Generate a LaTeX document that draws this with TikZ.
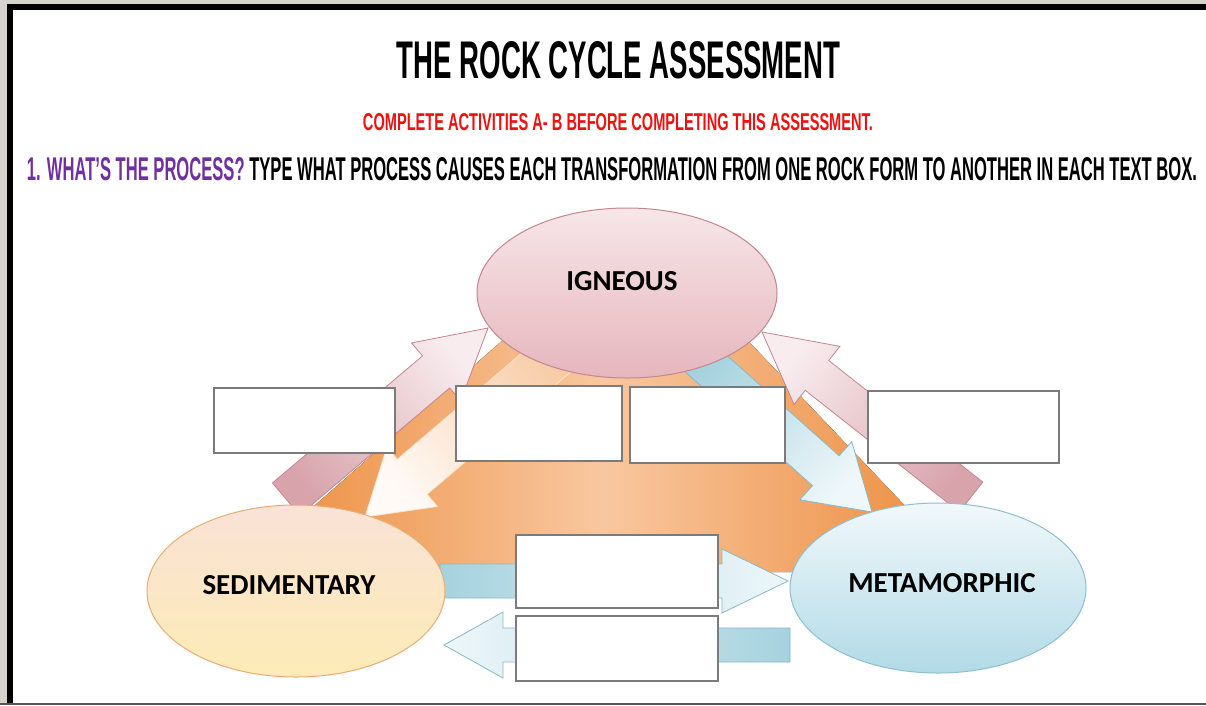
\documentclass[tikz,border=0pt]{standalone}
\usepackage{fontspec}
\setmainfont{Liberation Sans}
\newfontfamily\rocklabelfont{Carlito}
\usetikzlibrary{calc,shapes.geometric}

\definecolor{framegray}{HTML}{D6D3CE}
\definecolor{framebottom}{HTML}{555555}
\definecolor{headred}{HTML}{F01010}
\definecolor{headpurple}{HTML}{7030A0}
\definecolor{igntop}{HTML}{F7E6E8}
\definecolor{ignbottom}{HTML}{E5B6BD}
\definecolor{ignedge}{HTML}{C4868F}
\definecolor{sedtop}{HTML}{FAE2D6}
\definecolor{sedbottom}{HTML}{FDEBB6}
\definecolor{sededge}{HTML}{E6AD74}
\definecolor{mettop}{HTML}{F1F8FB}
\definecolor{metbottom}{HTML}{B1DAE6}
\definecolor{metedge}{HTML}{8DBFCF}
\definecolor{orangedark}{HTML}{EC8A38}
\definecolor{orangelight}{HTML}{F8C7A0}
\definecolor{pinktail}{HTML}{D8A3AB}
\definecolor{pinkhead}{HTML}{F8ECEE}
\definecolor{pinkedge}{HTML}{C3868F}
\definecolor{peachtail}{HTML}{F7C9A0}
\definecolor{peachhead}{HTML}{FFFAF6}
\definecolor{peachedge}{HTML}{FBE3CF}
\definecolor{bluetail}{HTML}{A5D2DE}
\definecolor{bluehead}{HTML}{EEF7FA}
\definecolor{blueedge}{HTML}{86B9C8}
\definecolor{boxedge}{HTML}{7B7B7B}

% block arrow: #1 style, #2 tail, #3 tip, #4 half shaft width, #5 half head width, #6 head length
\newcommand\rockarrow[6]{%
  \coordinate (arrowbase) at ($(#3)!#6!(#2)$);
  \draw[#1] ($(#2)!#4!90:(#3)$) -- ($(arrowbase)!#4!90:(#3)$)
    -- ($(arrowbase)!#5!90:(#3)$) -- (#3)
    -- ($(arrowbase)!#5!-90:(#3)$) -- ($(arrowbase)!#4!-90:(#3)$)
    -- ($(#2)!#4!-90:(#3)$) -- cycle;
}

\tikzset{
  pinkarrow/.style={draw=pinkedge, line width=0.8pt, bottom color=pinktail, top color=pinkhead},
  peacharrow/.style={draw=peachedge, line width=0.8pt, bottom color=peachtail, top color=peachhead},
  bluearrow/.style={draw=blueedge, line width=0.8pt, bottom color=bluetail, top color=bluehead},
  rockellipse/.style={ellipse, line width=1pt, inner sep=0pt},
  rocklabel/.style={font=\rocklabelfont\bfseries\fontsize{29}{30}\selectfont, inner sep=0pt},
  answerbox/.style={rectangle, draw=boxedge, line width=1.3pt, fill=white, inner sep=0pt},
  heading/.style={inner sep=0pt, anchor=center}
}

\begin{document}
\begin{tikzpicture}[x=1pt,y=-1pt]
\useasboundingbox (0,0) rectangle (1206,705);

% page frame
\fill[framegray] (0,0) rectangle (1206,705);
\fill[black] (7,4) rectangle (1206,703);
\fill[white] (13,10) rectangle (1206,703);
\fill[framebottom] (0,703) rectangle (1206,705);

% headings
\node[heading] (title) at (618.5,60.5)
  {\resizebox{443pt}{37pt}{\bfseries THE ROCK CYCLE ASSESSMENT}};
\node[heading] (note) at (618,122.5)
  {\resizebox{510pt}{17pt}{\bfseries\color{headred}COMPLETE ACTIVITIES A- B BEFORE COMPLETING THIS ASSESSMENT.}};
\node[heading] (task) at (612,169.5)
  {\resizebox{1170pt}{23pt}{\bfseries{\color{headpurple}1. WHAT’S THE PROCESS?} TYPE WHAT PROCESS CAUSES EACH TRANSFORMATION FROM ONE ROCK FORM TO ANOTHER IN EACH TEXT BOX.}};

% central triangle
\fill[left color=orangedark, right color=orangedark, middle color=orangelight]
  (636,223) -- (239,572) -- (968,572) -- cycle;

% arrow end points
\coordinate (sedToIgnTail) at (286,499);
\coordinate (sedToIgnTip)  at (488,328);
\coordinate (ignToSedTail) at (575,338);
\coordinate (ignToSedTip)  at (365,517);
\coordinate (ignToMetTail) at (693,352);
\coordinate (ignToMetTip)  at (872,512);
\coordinate (metToIgnTail) at (971,497);
\coordinate (metToIgnTip)  at (762,332);
\coordinate (sedToMetTail) at (440,581);
\coordinate (sedToMetTip)  at (788,581);
\coordinate (metToSedTail) at (790,645);
\coordinate (metToSedTip)  at (444,645);

% process arrows
\rockarrow{pinkarrow, shading angle=-49.75}{sedToIgnTail}{sedToIgnTip}{21pt}{38pt}{68pt}
\rockarrow{pinkarrow, shading angle=51.7}{metToIgnTail}{metToIgnTip}{19pt}{37pt}{70pt}
\rockarrow{peacharrow, shading angle=130.45}{ignToSedTail}{ignToSedTip}{23pt}{39pt}{62pt}
\rockarrow{bluearrow, shading angle=-131.8}{ignToMetTail}{ignToMetTip}{20pt}{39pt}{62pt}
\rockarrow{draw=blueedge, line width=0.8pt, left color=bluetail, middle color=white, right color=bluehead}{sedToMetTail}{sedToMetTip}{17pt}{32pt}{66pt}
\rockarrow{draw=blueedge, line width=0.8pt, left color=bluehead, middle color=white, right color=bluetail}{metToSedTail}{metToSedTip}{17pt}{33pt}{59pt}

% rock types
\node[rockellipse, draw=ignedge, top color=igntop, bottom color=ignbottom,
      minimum width=300pt, minimum height=170pt] (ign) at (627,293) {};
\node[rockellipse, draw=sededge, top color=sedtop, bottom color=sedbottom,
      minimum width=298pt, minimum height=172pt] (sed) at (296,591) {};
\node[rockellipse, draw=metedge, top color=mettop, bottom color=metbottom,
      minimum width=296pt, minimum height=170pt] (met) at (938,588) {};
\node[rocklabel] (ignText) at ($(ign)+(-5,-12)$) {IGNEOUS};
\node[rocklabel] (sedText) at ($(sed)+(-7,-6)$) {SEDIMENTARY};
\node[rocklabel] (metText) at ($(met)+(4,-5)$) {METAMORPHIC};

% answer boxes
\node[answerbox, minimum width=181pt, minimum height=65pt] (boxA) at (304.5,420.5) {};
\node[answerbox, minimum width=166pt, minimum height=75pt] (boxB) at (539,423.5) {};
\node[answerbox, minimum width=155pt, minimum height=76pt] (boxC) at (707.5,425) {};
\node[answerbox, minimum width=191pt, minimum height=72pt] (boxD) at (963.5,427) {};
\node[answerbox, minimum width=202pt, minimum height=73pt] (boxE) at (617,571.5) {};
\node[answerbox, minimum width=202pt, minimum height=65pt] (boxF) at (617,648.5) {};
\end{tikzpicture}
\end{document}
